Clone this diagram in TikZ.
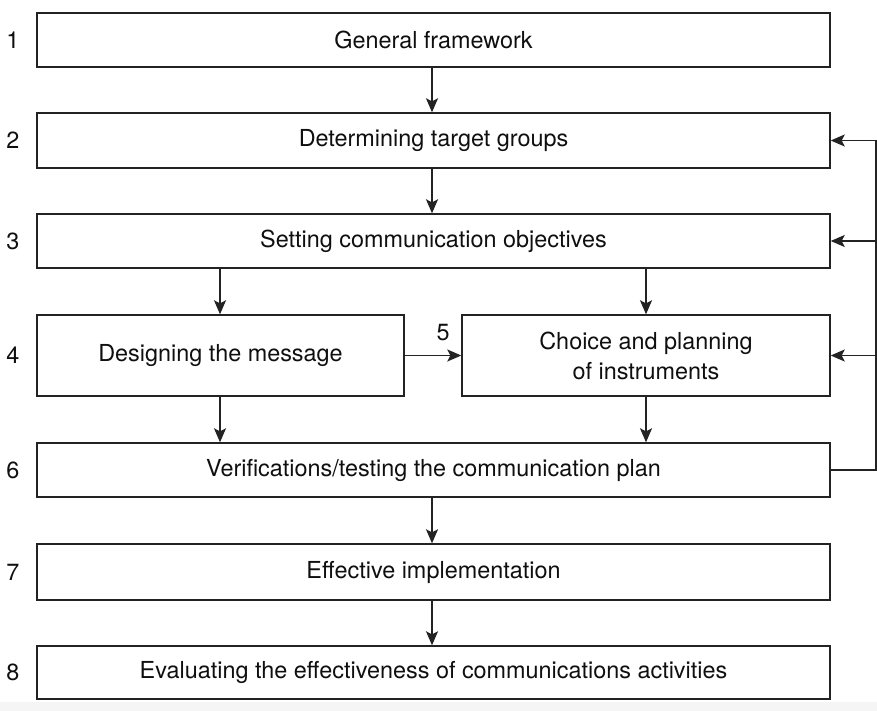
\documentclass[tikz,border=0pt]{standalone}
\usepackage{fontspec}
\setmainfont{TeX Gyre Heros}
\usetikzlibrary{arrows.meta}
\definecolor{linec}{RGB}{35,35,35}
\definecolor{txtc}{RGB}{15,15,15}
\definecolor{stripc}{RGB}{245,245,245}
\begin{document}
\begin{tikzpicture}[x=1pt,y=-1pt,
  box/.style={draw=linec, line width=1.4pt, fill=white, rectangle, inner sep=0pt, align=center,
    text=txtc, font=\fontsize{23.4}{30}\selectfont},
  num/.style={text=txtc, font=\fontsize{23.4}{27}\selectfont, inner sep=0pt},
  arr/.style={draw=linec, line width=1.4pt, -{Stealth[length=14pt,width=12pt,inset=3pt]}},
  ln/.style={draw=linec, line width=1.4pt}]
\fill[white] (0,0) rectangle (877,711);
\fill[stripc] (0,702) rectangle (877,711);
\useasboundingbox (0,0) rectangle (877,711);
\node[box, minimum width=793pt, minimum height=54pt] (b1) at (433.5,40) {General framework};
\node[box, minimum width=793pt, minimum height=55pt] (b2) at (433.5,140.5) {Determining target groups};
\node[box, minimum width=793pt, minimum height=54pt] (b3) at (433.5,241) {Setting communication objectives};
\node[box, minimum width=367pt, minimum height=81pt] (b4) at (220.5,355.5) {Designing the message};
\node[box, minimum width=368pt, minimum height=81pt] (b5) at (646,355.5) {Choice and planning\\of instruments};
\node[box, minimum width=793pt, minimum height=54pt] (b6) at (433.5,470) {Verifications/testing the communication plan};
\node[box, minimum width=793pt, minimum height=56pt] (b7) at (433.5,572) {Effective implementation};
\node[box, minimum width=793pt, minimum height=53pt] (b8) at (433.5,672.5) {Evaluating the effectiveness of communications activities};
\node[num] (n1) at (13,40) {1};
\node[num] (n2) at (13,140.5) {2};
\node[num] (n3) at (13,241) {3};
\node[num] (n4) at (13,355.5) {4};
\node[num] (n5) at (443,333) {5};
\node[num] (n6) at (13,470) {6};
\node[num] (n7) at (13,572) {7};
\node[num] (n8) at (13,672.5) {8};
\coordinate (fb) at (876,0);
\coordinate (cx) at (432,0);
\coordinate (lx) at (220,0);
\coordinate (rx) at (646,0);
\draw[arr] (cx |- b1.south) -- (cx |- b2.north);
\draw[arr] (cx |- b2.south) -- (cx |- b3.north);
\draw[arr] (lx |- b3.south) -- (lx |- b4.north);
\draw[arr] (rx |- b3.south) -- (rx |- b5.north);
\draw[arr] (b4.east) -- (b5.west);
\draw[arr] (lx |- b4.south) -- (lx |- b6.north);
\draw[arr] (rx |- b5.south) -- (rx |- b6.north);
\draw[arr] (cx |- b6.south) -- (cx |- b7.north);
\draw[arr] (cx |- b7.south) -- (cx |- b8.north);
\draw[ln] (b6.east) -- (fb |- b6.east) -- (fb |- b2.east);
\draw[arr] (fb |- b2.east) -- (b2.east);
\draw[arr] (fb |- b3.east) -- (b3.east);
\draw[arr] (fb |- b5.east) -- (b5.east);
\end{tikzpicture}
\end{document}
